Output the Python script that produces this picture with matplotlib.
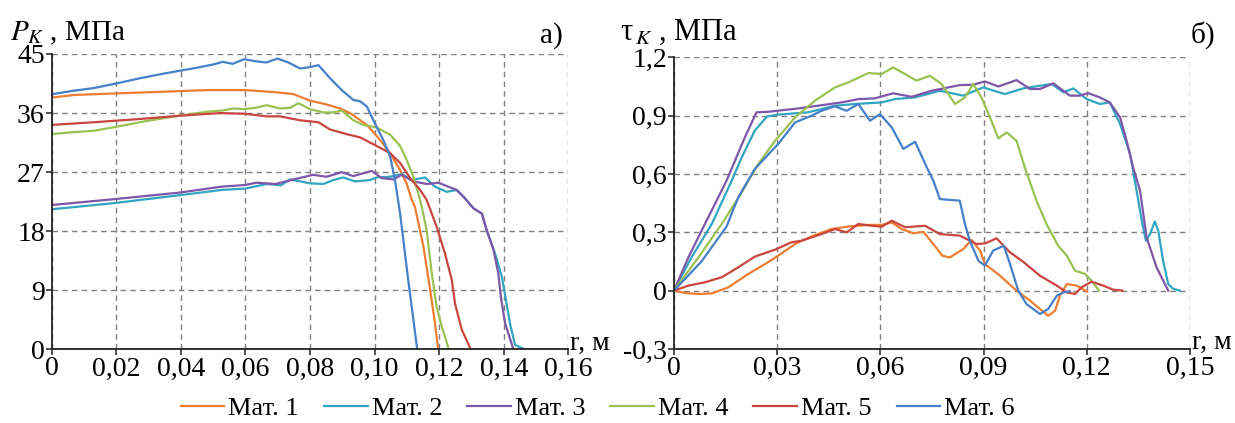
import matplotlib
matplotlib.use('Agg')
import matplotlib.pyplot as plt

FONT = 'Liberation Serif'
plt.rcParams['font.family'] = [FONT]
plt.rcParams['mathtext.fontset'] = 'stix'

names = ['Мат. 1', 'Мат. 2', 'Мат. 3', 'Мат. 4', 'Мат. 5', 'Мат. 6']
colors = ['#ED7D31', '#31A5C1', '#7E57A8', '#9BC152', '#C9453F', '#4580C8']

# --- a) contact pressure P_K, MPa vs r, m
r1a = [0, 0.0067, 0.02, 0.04, 0.048, 0.06, 0.0686, 0.0748, 0.08, 0.0852, 0.0893, 0.0924, 0.0976,
       0.1017, 0.1048, 0.1079, 0.1099, 0.1115, 0.1125, 0.1151, 0.1172, 0.1187, 0.1197]
p1a = [38.35, 38.75, 39.0, 39.35, 39.5, 39.5, 39.2, 38.9, 37.9, 37.3, 36.7, 36.0, 34.2,
       31.9, 29.9, 27.3, 25.3, 22.8, 21.7, 15.7, 9.1, 4.0, 0]
r2a = [0, 0.0195, 0.0397, 0.0527, 0.0599, 0.0666, 0.071, 0.0738, 0.08, 0.0841, 0.0872, 0.0903,
       0.0939, 0.0986, 0.1006, 0.1048, 0.1084, 0.1115, 0.1156, 0.1187, 0.1223, 0.1254, 0.1275,
       0.1306, 0.1332, 0.1347, 0.1373, 0.1394, 0.1407, 0.1419, 0.1435, 0.1466]
p2a = [21.35, 22.3, 23.5, 24.3, 24.5, 25.2, 25.0, 25.9, 25.3, 25.2, 25.8, 26.2,
       25.6, 25.8, 26.2, 26.3, 26.7, 25.8, 26.2, 24.8, 24.0, 24.3, 23.3,
       21.5, 20.7, 18.2, 14.6, 11.1, 7.5, 4.0, 0.7, 0]
r3a = [0, 0.0195, 0.0397, 0.0527, 0.0599, 0.0634, 0.0693, 0.0741, 0.081, 0.0851, 0.0898, 0.0934,
       0.0991, 0.1022, 0.1058, 0.1084, 0.112, 0.1161, 0.1197, 0.1228, 0.1254, 0.128, 0.1306,
       0.1332, 0.1347, 0.1368, 0.1383, 0.1391, 0.1404, 0.143]
p3a = [22.0, 22.9, 23.9, 24.8, 25.05, 25.4, 25.2, 25.8, 26.6, 26.3, 27.0, 26.4,
       27.2, 26.1, 25.9, 26.6, 25.6, 25.2, 25.4, 24.8, 24.3, 23.0, 21.5,
       20.7, 18.2, 15.2, 11.6, 8.0, 4.0, 0]
r4a = [0, 0.0067, 0.0129, 0.0199, 0.0294, 0.0397, 0.048, 0.053, 0.0563, 0.0596, 0.063, 0.0666,
       0.0707, 0.0738, 0.0764, 0.08, 0.0841, 0.0872, 0.0898, 0.0934, 0.0965, 0.1006, 0.1048,
       0.1079, 0.1099, 0.112, 0.1135, 0.1146, 0.1161, 0.1177, 0.1192, 0.1208, 0.123]
p4a = [32.8, 33.1, 33.3, 33.9, 34.8, 35.6, 36.2, 36.4, 36.7, 36.6, 36.8, 37.2,
       36.7, 36.8, 37.5, 36.6, 36.1, 36.1, 36.4, 34.9, 34.2, 33.8, 32.7,
       31.0, 28.9, 26.3, 23.8, 21.7, 18.2, 11.6, 6.5, 3.5, 0]
r5a = [0, 0.0129, 0.0273, 0.0397, 0.0521, 0.0596, 0.0666, 0.0707, 0.0769, 0.0826, 0.0862,
       0.0913, 0.0955, 0.1006, 0.1048, 0.1079, 0.111, 0.1141, 0.1161, 0.1192, 0.1218, 0.1239,
       0.1249, 0.127, 0.1298]
p5a = [34.2, 34.6, 35.1, 35.6, 36.0, 35.9, 35.5, 35.5, 34.9, 34.6, 33.5,
       32.8, 32.3, 31.0, 29.9, 28.4, 26.1, 24.3, 22.8, 18.7, 14.6, 10.6,
       7.0, 3.0, 0]
r6a = [0, 0.0067, 0.0129, 0.0199, 0.0273, 0.0335, 0.0397, 0.0449, 0.05, 0.053, 0.056, 0.0596,
       0.063, 0.0664, 0.0699, 0.0733, 0.0769, 0.08, 0.0826, 0.0862, 0.0898, 0.0934, 0.0955,
       0.0976, 0.1001, 0.1027, 0.1048, 0.1063, 0.1079, 0.1104, 0.1132]
p6a = [38.86, 39.4, 39.8, 40.5, 41.3, 41.9, 42.45, 42.9, 43.4, 43.8, 43.5, 44.2,
       43.9, 43.7, 44.3, 43.7, 42.8, 43.0, 43.3, 41.3, 39.5, 38.0, 37.8,
       37.0, 34.4, 31.9, 29.4, 25.8, 20.7, 10.6, 0]

# --- б) shear stress tau_K, MPa vs r, m
r1b = [0, 0.0032, 0.0071, 0.011, 0.0158, 0.0216, 0.0265, 0.0303, 0.0352, 0.04, 0.0458, 0.0507,
       0.0565, 0.0604, 0.0633, 0.0662, 0.0696, 0.0725, 0.0754, 0.078, 0.0802, 0.0841, 0.0865,
       0.089, 0.0904, 0.0948, 0.0996, 0.1035, 0.1064, 0.1088, 0.1108, 0.1122, 0.1142, 0.1171,
       0.1201]
t1b = [0, -0.012, -0.017, -0.014, 0.017, 0.086, 0.137, 0.18, 0.24, 0.279, 0.317, 0.33,
       0.338, 0.338, 0.351, 0.317, 0.295, 0.303, 0.24, 0.18, 0.171, 0.214, 0.261,
       0.206, 0.137, 0.077, 0.0, -0.051, -0.094, -0.129, -0.103, -0.026, 0.034, 0.026,
       -0.005]
r2b = [0, 0.0051, 0.011, 0.0168, 0.0197, 0.0235, 0.027, 0.03, 0.039, 0.0468, 0.0526, 0.0604,
       0.0642, 0.0701, 0.0773, 0.0841, 0.0899, 0.0962, 0.1015, 0.1098, 0.1132, 0.1161, 0.12,
       0.1238, 0.1267, 0.1297, 0.1326, 0.1345, 0.136, 0.1372, 0.1384, 0.1398, 0.1408, 0.1422,
       0.1437, 0.1452, 0.1471]
t2b = [0, 0.171, 0.343, 0.566, 0.685, 0.823, 0.895, 0.905, 0.917, 0.951, 0.96, 0.968,
       0.985, 0.994, 1.028, 1.003, 1.045, 1.011, 1.04, 1.063, 1.02, 1.04, 0.985,
       0.96, 0.968, 0.857, 0.703, 0.514, 0.36, 0.257, 0.291, 0.356, 0.308, 0.154,
       0.034, 0.009, 0]
r3b = [0, 0.0042, 0.009, 0.0153, 0.0206, 0.024, 0.0274, 0.0361, 0.0487, 0.0536, 0.0584, 0.0637,
       0.0691, 0.0749, 0.0831, 0.087, 0.0904, 0.0943, 0.0996, 0.1035, 0.1064, 0.1103, 0.1151,
       0.118, 0.1204, 0.1238, 0.1267, 0.1297, 0.1316, 0.1335, 0.1355, 0.1374, 0.1403, 0.1437]
t3b = [0, 0.171, 0.343, 0.566, 0.788, 0.917, 0.92, 0.937, 0.968, 0.985, 0.989, 1.015,
       0.997, 1.028, 1.057, 1.059, 1.076, 1.05, 1.083, 1.037, 1.037, 1.066, 1.003,
       1.003, 1.016, 0.994, 0.968, 0.891, 0.771, 0.634, 0.514, 0.274, 0.12, 0]
r4b = [0, 0.0071, 0.0139, 0.0197, 0.0245, 0.0294, 0.0352, 0.041, 0.0468, 0.0507, 0.0565, 0.0604,
       0.0637, 0.0672, 0.0705, 0.0744, 0.0778, 0.0817, 0.0846, 0.087, 0.0894, 0.0919, 0.0943,
       0.0967, 0.0996, 0.102, 0.1054, 0.1083, 0.1117, 0.1142, 0.1166, 0.1195, 0.1214, 0.1236]
t4b = [0, 0.171, 0.343, 0.505, 0.651, 0.771, 0.891, 0.977, 1.045, 1.071, 1.119, 1.114,
       1.148, 1.114, 1.08, 1.105, 1.063, 0.96, 0.994, 1.063, 0.994, 0.891, 0.783,
       0.814, 0.771, 0.634, 0.463, 0.343, 0.231, 0.18, 0.103, 0.086, 0.051, 0]
r5b = [0, 0.0042, 0.009, 0.0139, 0.0187, 0.0235, 0.0294, 0.0342, 0.0371, 0.0429, 0.0468, 0.0502,
       0.0536, 0.0575, 0.0604, 0.0633, 0.0672, 0.073, 0.0773, 0.0831, 0.088, 0.0904, 0.0938,
       0.0977, 0.1015, 0.1064, 0.1113, 0.1142, 0.1166, 0.1185, 0.1214, 0.1248, 0.1277, 0.1304]
t5b = [0, 0.026, 0.043, 0.069, 0.12, 0.175, 0.211, 0.249, 0.257, 0.291, 0.317, 0.3,
       0.343, 0.334, 0.329, 0.36, 0.326, 0.334, 0.291, 0.283, 0.24, 0.243, 0.269,
       0.197, 0.149, 0.077, 0.026, -0.009, -0.017, 0.017, 0.046, 0.026, 0.005, 0]
r6b = [0, 0.008, 0.0153, 0.0187, 0.0235, 0.0303, 0.0352, 0.04, 0.0429, 0.0468, 0.0502, 0.0536,
       0.057, 0.0599, 0.0633, 0.0667, 0.0701, 0.0735, 0.0754, 0.0773, 0.0831, 0.0846, 0.086,
       0.0885, 0.0904, 0.0928, 0.0959, 0.0977, 0.1001, 0.1025, 0.1064, 0.1088, 0.1113, 0.1132,
       0.1151]
t6b = [0, 0.15, 0.33, 0.48, 0.626, 0.754, 0.865, 0.9, 0.925, 0.948, 0.925, 0.96,
       0.874, 0.908, 0.84, 0.729, 0.766, 0.634, 0.566, 0.471, 0.463, 0.343, 0.257,
       0.154, 0.129, 0.206, 0.231, 0.137, 0.0, -0.069, -0.12, -0.094, -0.026, -0.009,
       -0.003]

xticks_a = [0, 0.02, 0.04, 0.06, 0.08, 0.10, 0.12, 0.14, 0.16]
xlabels_a = ['0', '0,02', '0,04', '0,06', '0,08', '0,10', '0,12', '0,14', '0,16']
yticks_a = [0, 9, 18, 27, 36, 45]
ylabels_a = ['0', '9', '18', '27', '36', '45']
xticks_b = [0, 0.03, 0.06, 0.09, 0.12, 0.15]
xlabels_b = ['0', '0,03', '0,06', '0,09', '0,12', '0,15']
yticks_b = [-0.3, 0, 0.3, 0.6, 0.9, 1.2]
ylabels_b = ['-0,3', '0', '0,3', '0,6', '0,9', '1,2']

fig = plt.figure(figsize=(12.35, 4.23), dpi=100)
ax1 = fig.add_axes([0.0419, 0.1738, 0.4183, 0.6986])
ax2 = fig.add_axes([0.5457, 0.1749, 0.4178, 0.6896])

left_data = [(r1a, p1a), (r2a, p2a), (r3a, p3a), (r4a, p4a), (r5a, p5a), (r6a, p6a)]
right_data = [(r1b, t1b), (r2b, t2b), (r3b, t3b), (r4b, t4b), (r5b, t5b), (r6b, t6b)]

for i in range(6):
    ax1.plot(left_data[i][0], left_data[i][1], color=colors[i], lw=1.6, label=names[i])
    ax2.plot(right_data[i][0], right_data[i][1], color=colors[i], lw=1.6)


def style(ax, xt, xl, yt, yl):
    ax.set_xlim(xt[0], xt[-1])
    ax.set_ylim(yt[0], yt[-1])
    ax.set_xticks(xt)
    ax.set_xticklabels(xl, family=FONT, fontsize=20)
    ax.set_yticks(yt)
    ax.set_yticklabels(yl, family=FONT, fontsize=20)
    ax.grid(True, color='#808080', linestyle=(0, (4, 3)), linewidth=1.0)
    ax.set_axisbelow(True)
    for s in ['top', 'right']:
        ax.spines[s].set_visible(False)
    for s in ['left', 'bottom']:
        ax.spines[s].set_linewidth(1.3)
        ax.spines[s].set_color('#222222')
    ax.tick_params(length=4, width=1.1, pad=1, color='#222222')
    ax.text(1.004, 0.0, 'r, м', transform=ax.transAxes, fontsize=20, family=FONT,
            ha='left', va='baseline')


style(ax1, xticks_a, xlabels_a, yticks_a, ylabels_a)
style(ax2, xticks_b, xlabels_b, yticks_b, ylabels_b)

fig.text(0.008, 0.905, r'$P_{K}$ , МПа', fontsize=21, family=FONT, va='baseline')
fig.text(0.456, 0.90, 'a)', fontsize=21, family=FONT, ha='right', va='baseline')
fig.text(0.502, 0.905, r'τ$_{\,K}$ , МПа', fontsize=22, family=FONT, va='baseline')
fig.text(0.984, 0.90, 'б)', fontsize=21, family=FONT, ha='right', va='baseline')

fig.legend(loc='center', bbox_to_anchor=(0.484, 0.035), ncol=6, frameon=False,
           prop={'family': FONT, 'size': 19}, handlelength=1.65, handletextpad=0.15,
           columnspacing=0.95, borderaxespad=0)

fig.savefig('out.png', dpi=100)
